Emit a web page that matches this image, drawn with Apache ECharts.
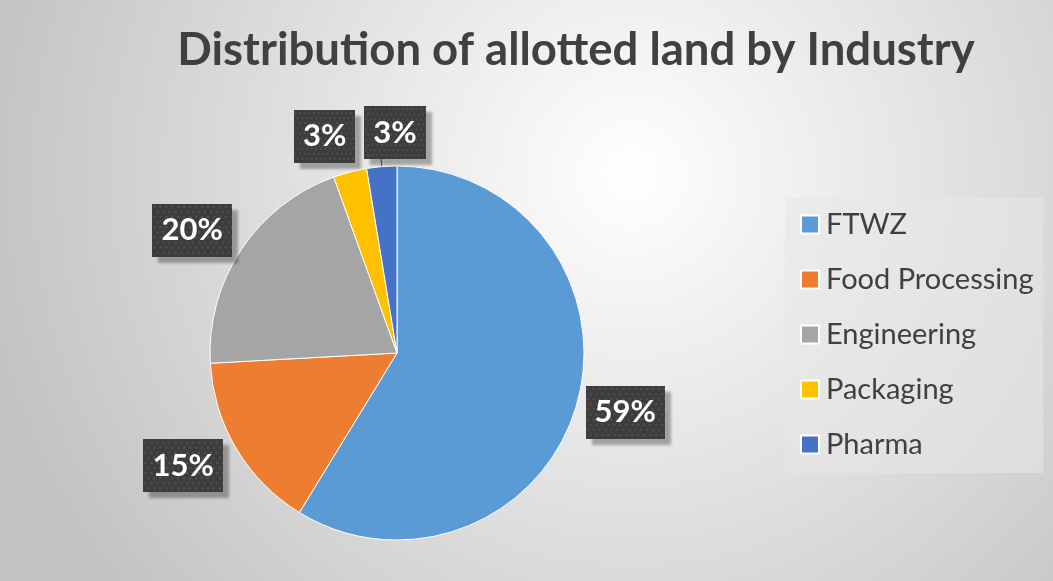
<!DOCTYPE html>
<html><head><meta charset="utf-8">
<script src="https://cdn.jsdelivr.net/npm/echarts@6/dist/echarts.min.js"></script>
<style>html,body{margin:0;padding:0;background:#fff}#c{width:1053px;height:581px}</style>
</head><body><div id="c"></div>
<script>
const categories = ['FTWZ', 'Food Processing', 'Engineering', 'Packaging', 'Pharma'];
const values = [58.8, 15.4, 20.4, 2.9, 2.6];
const colors = ['#5B9BD5', '#ED7D31', '#A5A5A5', '#FFC000', '#4472C4'];
const labelOffsets = [[-6, 6], [0, 12], [4, -14], [13, -26], [50, -20]];

function makePattern(w, h) {
  const c = document.createElement('canvas');
  c.width = w; c.height = h;
  const g = c.getContext('2d');
  g.fillStyle = '#3d3d3d'; g.fillRect(0, 0, w, h);
  g.fillStyle = '#525252';
  for (let y = 2, r = 0; y < h; y += 5, r++) {
    for (let x = (r % 2) * 3 + 1; x < w; x += 6) g.fillRect(x, y, 2, 2);
  }
  return c;
}
const pat = makePattern(80, 52);

const chart = echarts.init(document.getElementById('c'));
const font = 'Lato, "Open Sans", sans-serif';
chart.setOption({
  backgroundColor: {
    type: 'radial', x: 0.6, y: 0.3, r: 1.15,
    colorStops: [{offset: 0, color: '#ffffff'}, {offset: 1, color: '#c2c2c2'}]
  },
  title: {
    text: 'Distribution of allotted land by Industry',
    left: 571, top: 22, textAlign: 'center',
    textStyle: {fontFamily: font, fontWeight: 'bold', fontSize: 45.5, color: '#404040'}
  },
  legend: {
    orient: 'vertical', left: 785, top: 198,
    padding: [12, 10, 14, 15], itemGap: 26,
    itemWidth: 18, itemHeight: 18, icon: 'rect',
    backgroundColor: 'rgba(232,232,232,0.55)',
    textStyle: {fontFamily: font, fontSize: 29, color: '#404040', padding: [0, 0, 0, 2]},
    data: categories
  },
  series: [{
    type: 'pie', center: [397, 353], radius: 187,
    startAngle: 90, clockwise: true,
    avoidLabelOverlap: false,
    labelLayout: {hideOverlap: false},
    itemStyle: {borderColor: '#ffffff', borderWidth: 1},
    label: {
      position: 'outside', alignTo: 'none',
      formatter: p => Math.round(p.percent) + '%',
      color: '#ffffff', fontFamily: font, fontWeight: 'bold', fontSize: 31,
      backgroundColor: {image: pat}, padding: [12, 9, 10, 9],
      shadowColor: 'rgba(0,0,0,0.3)', shadowOffsetX: 6, shadowOffsetY: 6, shadowBlur: 3
    },
    labelLine: {show: false, length: 10, length2: 0},
    data: categories.map((n, i) => ({
      name: n, value: values[i],
      itemStyle: {color: colors[i]},
      label: {offset: labelOffsets[i]},
      labelLine: i === 4 ? {show: true, length: 14, length2: 0, lineStyle: {color: '#595959', width: 1}} : {}
    }))
  }]
});
</script></body></html>
